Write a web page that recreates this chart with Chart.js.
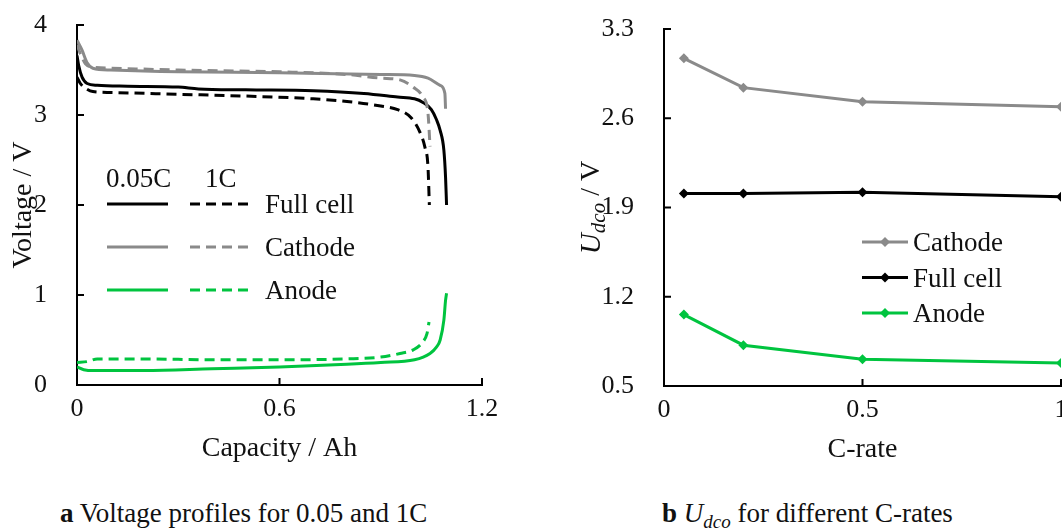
<!DOCTYPE html>
<html lang="en">
<head>
<meta charset="UTF-8">
<title>Voltage profiles and U_dco</title>
<script src="https://cdn.jsdelivr.net/npm/chart.js"></script>
<style>
  html, body {
    margin: 0;
    padding: 0;
    background: #fff;
    width: 1062px;
    height: 532px;
    overflow: hidden;
    position: relative;
    font-family: 'Liberation Serif', 'Times New Roman', serif;
    color: #111;
  }
  .panel {
    position: absolute;
    top: 0;
  }
  #leftPanel { left: 0; width: 540px; height: 480px; }
  #rightPanel { left: 540px; width: 580px; height: 480px; }
  .caption {
    position: absolute;
    top: 498px;
    font-size: 27px;
    white-space: nowrap;
  }
  .caption b { font-weight: bold; }
  .caption i sub { font-size: 19px; }
</style>
</head>
<body>

<div class="panel" id="leftPanel"><canvas id="profileChart"></canvas></div>
<div class="panel" id="rightPanel"><canvas id="udcoChart"></canvas></div>

<div class="caption" style="left:60px"><b>a</b> Voltage profiles for 0.05 and 1C</div>
<div class="caption" style="left:662px"><b>b</b> <i>U<sub>dco</sub></i> for different C-rates</div>

<script>
// discharge curves, capacity in Ah / voltage in V
const fullSlowCap = [0, 0.005, 0.015, 0.03, 0.06, 0.15, 0.3, 0.36, 0.5, 0.7, 0.85, 0.95, 1.0, 1.025, 1.05, 1.065, 1.076, 1.087, 1.092, 1.095];
const fullSlowV   = [3.66, 3.55, 3.42, 3.35, 3.33, 3.32, 3.31, 3.29, 3.28, 3.27, 3.24, 3.20, 3.18, 3.14, 3.06, 2.95, 2.83, 2.61, 2.31, 2.0];
const fullFastCap = [0, 0.01, 0.024, 0.047, 0.1, 0.3, 0.5, 0.7, 0.8, 0.9, 0.95, 0.99, 1.016, 1.031, 1.04, 1.044];
const fullFastV   = [3.42, 3.35, 3.30, 3.26, 3.25, 3.23, 3.21, 3.18, 3.15, 3.10, 3.06, 2.97, 2.81, 2.64, 2.42, 2.0];
const cathSlowCap = [0, 0.015, 0.03, 0.047, 0.1, 0.3, 0.6, 0.9, 1.0, 1.04, 1.076, 1.09, 1.092];
const cathSlowV   = [3.83, 3.72, 3.58, 3.52, 3.50, 3.48, 3.47, 3.45, 3.44, 3.41, 3.33, 3.24, 3.07];
const cathFastCap = [0, 0.01, 0.025, 0.05, 0.1, 0.3, 0.6, 0.8, 0.9, 0.957, 0.996, 1.025, 1.04, 1.046];
const cathFastV   = [3.78, 3.68, 3.57, 3.53, 3.52, 3.50, 3.48, 3.45, 3.41, 3.39, 3.31, 3.20, 3.02, 2.65];
const anodeSlowCap = [0, 0.02, 0.05, 0.2, 0.4, 0.6, 0.8, 0.9, 1.0, 1.046, 1.065, 1.076, 1.087, 1.092, 1.095];
const anodeSlowV   = [0.20, 0.17, 0.16, 0.16, 0.18, 0.20, 0.23, 0.25, 0.28, 0.35, 0.42, 0.50, 0.72, 0.94, 1.02];
const anodeFastCap = [0, 0.03, 0.06, 0.2, 0.4, 0.6, 0.8, 0.9, 0.957, 0.996, 1.025, 1.037, 1.043];
const anodeFastV   = [0.25, 0.26, 0.29, 0.29, 0.28, 0.28, 0.29, 0.31, 0.35, 0.39, 0.48, 0.57, 0.70];

// U_dco over C-rate
const cRates = [0.05, 0.2, 0.5, 1];
const udcoCathode = [3.07, 2.84, 2.73, 2.69];
const udcoFull = [2.01, 2.01, 2.02, 1.985];
const udcoAnode = [1.06, 0.82, 0.71, 0.68];

const profileTicksX = [0, 0.6, 1.2];
const profileTicksY = [0, 1, 2, 3, 4];
const udcoTicksX = [0, 0.5, 1];
const udcoTicksY = [0.5, 1.2, 1.9, 2.6, 3.3];

const GRAY = '#8a8a8a';
const GREEN = '#00c43f';
const BLACK = '#000';
const DASH = [10, 6];
const FONT = "'Liberation Serif', 'Times New Roman', serif";

Chart.defaults.font.family = FONT;
Chart.defaults.font.size = 26;
Chart.defaults.color = '#111';
Chart.defaults.animation = false;

function pts(xs, ys) {
  return xs.map((x, i) => ({ x: x, y: ys[i] }));
}

function fmt(v) {
  return String(+v.toFixed(2));
}

// short inward tick marks along both axes
const innerTicks = {
  id: 'innerTicks',
  afterDraw(chart) {
    const ctx = chart.ctx;
    const { left, bottom } = chart.chartArea;
    ctx.save();
    ctx.strokeStyle = '#000';
    ctx.lineWidth = 2;
    ctx.beginPath();
    chart.scales.x.ticks.forEach(t => {
      const px = chart.scales.x.getPixelForValue(t.value);
      ctx.moveTo(px, bottom);
      ctx.lineTo(px, bottom - 7);
    });
    chart.scales.y.ticks.forEach(t => {
      const py = chart.scales.y.getPixelForValue(t.value);
      ctx.moveTo(left, py);
      ctx.lineTo(left + 7, py);
    });
    ctx.stroke();
    ctx.restore();
  }
};

function axes(xMin, xMax, xTicks, yMin, yMax, yTicks, yWidth, xTitle, yTitle, yTitlePad) {
  return {
    x: {
      type: 'linear', min: xMin, max: xMax,
      afterBuildTicks: s => { s.ticks = xTicks.map(v => ({ value: v })); },
      grid: { display: false },
      border: { display: true, color: '#000', width: 2 },
      ticks: { padding: 1, callback: fmt, maxRotation: 0 },
      title: { display: !!xTitle, text: xTitle, font: { size: 28 }, padding: { top: 5, bottom: 0 } },
      afterFit: s => {
        s.height = 80;
        s.paddingLeft = 0; s.paddingRight = 0; s.paddingTop = 0; s.paddingBottom = 0;
      }
    },
    y: {
      type: 'linear', min: yMin, max: yMax,
      afterBuildTicks: s => { s.ticks = yTicks.map(v => ({ value: v })); },
      grid: { display: false },
      border: { display: true, color: '#000', width: 2 },
      ticks: { padding: 22, callback: fmt },
      title: { display: !!yTitle, text: yTitle, font: { size: 28 }, padding: { top: yTitlePad, bottom: 0 } },
      afterFit: s => {
        s.width = yWidth;
        s.paddingLeft = 0; s.paddingRight = 0; s.paddingTop = 0; s.paddingBottom = 0;
      }
    }
  };
}

// legend for the profile plot: solid = 0.05C, dashed = 1C
const profileLegend = {
  id: 'profileLegend',
  afterDraw(chart) {
    const ctx = chart.ctx;
    const x0 = chart.chartArea.left;
    const y0 = chart.chartArea.top;
    const rows = [
      { label: 'Full cell', color: BLACK },
      { label: 'Cathode', color: GRAY },
      { label: 'Anode', color: GREEN }
    ];
    ctx.save();
    ctx.font = '27px ' + FONT;
    ctx.fillStyle = '#111';
    ctx.textBaseline = 'alphabetic';
    ctx.fillText('0.05C', x0 + 29, y0 + 162);
    ctx.fillText('1C', x0 + 128, y0 + 162);
    rows.forEach((r, i) => {
      const y = y0 + 179 + i * 43;
      ctx.lineWidth = 3;
      ctx.strokeStyle = r.color;
      ctx.setLineDash([]);
      ctx.beginPath(); ctx.moveTo(x0 + 30, y); ctx.lineTo(x0 + 91, y); ctx.stroke();
      ctx.setLineDash(DASH);
      ctx.beginPath(); ctx.moveTo(x0 + 113, y); ctx.lineTo(x0 + 176, y); ctx.stroke();
      ctx.fillText(r.label, x0 + 188, y + 9);
    });
    ctx.restore();
  }
};

function curve(xs, ys, color, dashed) {
  return {
    data: pts(xs, ys),
    showLine: true,
    borderColor: color,
    borderWidth: 3,
    borderDash: dashed ? DASH : [],
    pointRadius: 0,
    cubicInterpolationMode: 'monotone',
    fill: false
  };
}

new Chart(document.getElementById('profileChart'), {
  type: 'scatter',
  data: {
    datasets: [
      curve(cathSlowCap, cathSlowV, GRAY, false),
      curve(cathFastCap, cathFastV, GRAY, true),
      curve(fullSlowCap, fullSlowV, BLACK, false),
      curve(fullFastCap, fullFastV, BLACK, true),
      curve(anodeSlowCap, anodeSlowV, GREEN, false),
      curve(anodeFastCap, anodeFastV, GREEN, true)
    ]
  },
  options: {
    responsive: true,
    maintainAspectRatio: false,
    layout: { padding: { left: 0, top: 25, right: 58, bottom: 15 } },
    plugins: { legend: { display: false }, tooltip: { enabled: false } },
    scales: axes(0, 1.2, profileTicksX, 0, 4, profileTicksY, 77, 'Capacity / Ah', 'Voltage / V', 7)
  },
  plugins: [innerTicks, profileLegend]
});

// y title with italic subscript, and the in-plot legend
const udcoDecor = {
  id: 'udcoDecor',
  afterDraw(chart) {
    const ctx = chart.ctx;
    const area = chart.chartArea;
    ctx.save();
    // rotated axis title
    const cy = (area.top + area.bottom) / 2;
    ctx.translate(area.left - 72, cy);
    ctx.rotate(-Math.PI / 2);
    ctx.fillStyle = '#111';
    ctx.textBaseline = 'middle';
    const parts = [
      { t: 'U', f: 'italic 29px ' + FONT, dy: 0 },
      { t: 'dco', f: 'italic 21px ' + FONT, dy: 7 },
      { t: ' / V', f: '28px ' + FONT, dy: 0 }
    ];
    let w = 0;
    parts.forEach(p => { ctx.font = p.f; w += ctx.measureText(p.t).width; });
    let x = -w / 2;
    parts.forEach(p => {
      ctx.font = p.f;
      ctx.fillText(p.t, x, p.dy);
      x += ctx.measureText(p.t).width;
    });
    ctx.restore();

    // legend rows
    const items = [
      { label: 'Cathode', color: GRAY },
      { label: 'Full cell', color: BLACK },
      { label: 'Anode', color: GREEN }
    ];
    ctx.save();
    ctx.font = '27px ' + FONT;
    ctx.textBaseline = 'alphabetic';
    items.forEach((it, i) => {
      const y = area.top + 213 + i * 35.5;
      const lx = area.left + 198;
      ctx.strokeStyle = it.color;
      ctx.lineWidth = 3;
      ctx.beginPath(); ctx.moveTo(lx, y); ctx.lineTo(lx + 46, y); ctx.stroke();
      ctx.fillStyle = it.color;
      ctx.beginPath();
      ctx.moveTo(lx + 23, y - 5); ctx.lineTo(lx + 28, y); ctx.lineTo(lx + 23, y + 5); ctx.lineTo(lx + 18, y);
      ctx.closePath(); ctx.fill();
      ctx.fillStyle = '#111';
      ctx.fillText(it.label, lx + 51, y + 9);
    });
    ctx.restore();
  }
};

function markedLine(ys, color) {
  return {
    data: pts(cRates, ys),
    showLine: true,
    borderColor: color,
    backgroundColor: color,
    borderWidth: 3,
    pointStyle: 'rectRot',
    pointRadius: 5,
    pointBorderWidth: 0,
    tension: 0,
    fill: false
  };
}

new Chart(document.getElementById('udcoChart'), {
  type: 'scatter',
  data: {
    datasets: [
      markedLine(udcoCathode, GRAY),
      markedLine(udcoFull, BLACK),
      markedLine(udcoAnode, GREEN)
    ]
  },
  options: {
    responsive: true,
    maintainAspectRatio: false,
    layout: { padding: { left: 0, top: 29, right: 59, bottom: 14 } },
    plugins: { legend: { display: false }, tooltip: { enabled: false } },
    scales: axes(0, 1, udcoTicksX, 0.5, 3.3, udcoTicksY, 124, 'C-rate', '', 0)
  },
  plugins: [innerTicks, udcoDecor]
});
</script>

</body>
</html>
